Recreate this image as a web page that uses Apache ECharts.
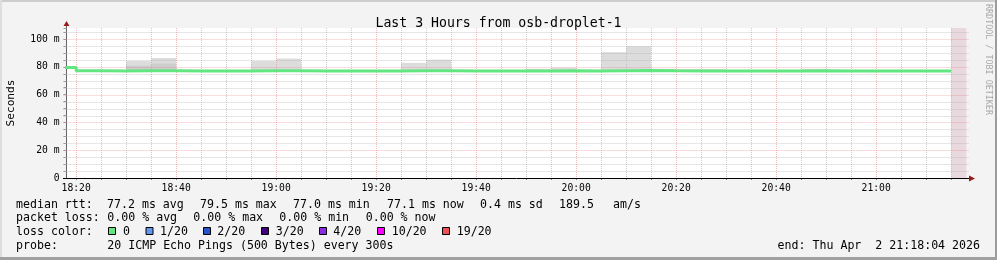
<!DOCTYPE html>
<html>
<head>
<meta charset="utf-8">
<script src="https://cdn.jsdelivr.net/npm/echarts@6/dist/echarts.min.js"></script>
<style>
html,body{margin:0;padding:0;background:#f3f3f3;}
#c{width:997px;height:260px;}
</style>
</head>
<body>
<div id="c"></div>
<script>
// ---------- data ----------
const binStarts = ['18:15','18:20','18:25','18:30','18:35','18:40','18:45','18:50','18:55',
  '19:00','19:05','19:10','19:15','19:20','19:25','19:30','19:35','19:40','19:45','19:50','19:55',
  '20:00','20:05','20:10','20:15','20:20','20:25','20:30','20:35','20:40','20:45','20:50','20:55',
  '21:00','21:05','21:10'];
const binEnd = '21:15';
const medianMs = [79.5,77.2,77.1,77.2,77.3,77.1,77.1,77.0,77.2,
  77.2,77.1,77.1,77.0,77.1,77.2,77.2,77.1,77.0,77.1,77.1,77.2,
  77.1,77.3,77.4,77.2,77.1,77.1,77.0,77.1,77.1,77.2,77.1,77.0,
  77.1,77.1,77.1];
const smokeMaxMs = [80.2,77.8,77.8,84.2,86.4,77.9,77.8,77.7,84.2,
  86.0,77.8,77.8,77.7,77.8,82.9,85.2,77.8,77.7,77.8,78.6,79.4,
  77.8,90.6,94.9,78.6,78.5,78.5,77.8,77.8,77.8,78.6,77.8,77.7,
  77.8,77.8,77.8];
const smokeMinMs = [79.0,76.6,76.6,76.6,76.6,76.6,76.6,76.6,76.6,
  76.6,76.6,76.6,76.6,76.6,76.6,76.6,76.6,76.6,76.6,76.6,76.6,
  76.6,76.6,76.6,76.6,76.6,76.6,76.6,76.6,76.6,76.6,76.6,76.6,
  76.6,76.6,76.6];
const smokeInnerMaxMs = [79.8,77.5,77.5,80.8,82.4,77.5,77.5,77.5,77.5,
  77.5,77.5,77.5,77.5,77.5,77.5,77.5,77.5,77.5,77.5,77.5,77.5,
  77.5,77.5,77.5,77.5,77.5,77.5,77.5,77.5,77.5,77.5,77.5,77.5,
  77.5,77.5,77.5];
const smokeInnerMinMs = [79.2,76.9,76.9,76.9,76.9,76.9,76.9,76.9,76.9,
  76.9,76.9,76.9,76.9,76.9,76.9,76.9,76.9,76.9,76.9,76.9,76.9,
  76.9,76.9,76.9,76.9,76.9,76.9,76.9,76.9,76.9,76.9,76.9,76.9,
  76.9,76.9,76.9];
const startTime = '18:18:04';
const endTime = '21:18:04';
const unknownFrom = '21:15';
const yMaxMs = 108;
const yTickStepMs = 5;
const yMajorStepMs = 20;
const yLabelValues = [0, 20, 40, 60, 80, 100];
const xLabelTimes = ['18:20','18:40','19:00','19:20','19:40','20:00','20:20','20:40','21:00'];
const xMinorStepMin = 5;
const xMajorStepMin = 20;

const titleText = 'Last 3 Hours from osb-droplet-1';
const yName = 'Seconds';
const rttHead = 'median rtt:';
const rttStats = ['77.2 ms avg','79.5 ms max','77.0 ms min','77.1 ms now','0.4 ms sd','189.5','am/s'];
const lossHead = 'packet loss:';
const lossStats = ['0.00 % avg','0.00 % max','0.00 % min','0.00 % now'];
const lossColorHead = 'loss color:';
const lossLabels = ['0','1/20','2/20','3/20','4/20','10/20','19/20'];
const lossColors = ['#62e67f','#6495ed','#2454c8','#40007f','#8a2be2','#ff00ff','#f05050'];
const probeHead = 'probe:';
const probeText = '20 ICMP Echo Pings (500 Bytes) every 300s';
const endText = 'end: Thu Apr  2 21:18:04 2026';
const watermark = 'RRDTOOL / TOBI OETIKER';

// ---------- layout ----------
const rttX = [107, 200, 293, 387, 480, 559, 613];
const lossX = [107.3, 193.3, 279.3, 365.7];
const swatchX = [108.5, 146, 203.5, 261.5, 319.5, 377.5, 442.5];
const swatchLabelX = [123, 160, 217.3, 275.7, 333.3, 391.7, 456.7];
const MONO = '"DejaVu Sans Mono", monospace';

function toMin(s) {
  const p = s.split(':').map(Number);
  return p[0] * 60 + p[1] + (p[2] || 0) / 60;
}
function fmtMin(v) {
  const h = Math.floor(v / 60), m = Math.round(v - h * 60);
  return h + ':' + (m < 10 ? '0' : '') + m;
}
const xMin = toMin(startTime), xMax = toMin(endTime);
const binStartMin = binStarts.map(toMin);
const binEndMin = binStartMin.slice(1).concat([toMin(binEnd)]);

const outerBoxes = binStartMin.map((t, i) => [t, binEndMin[i], smokeMinMs[i], smokeMaxMs[i]]);
const innerBoxes = binStartMin.map((t, i) => [t, binEndMin[i], smokeInnerMinMs[i], smokeInnerMaxMs[i]]);
const medianLine = binStartMin.map((t, i) => [t, medianMs[i]]);
medianLine.push([toMin(binEnd), medianMs[medianMs.length - 1]]);

// grid lines: [orientation (0 vertical / 1 horizontal), value, major]
const gridLines = [];
for (let t = Math.ceil(xMin / xMinorStepMin) * xMinorStepMin; t < xMax; t += xMinorStepMin) {
  gridLines.push([0, t, t % xMajorStepMin === 0 ? 1 : 0]);
}
for (let v = yTickStepMs; v < yMaxMs; v += yTickStepMs) {
  gridLines.push([1, v, v % yMajorStepMs === 0 ? 1 : 0]);
}
const xTickValues = gridLines.filter(g => g[0] === 0).map(g => g[1]);

function renderBox(params, api) {
  const p0 = api.coord([api.value(0), api.value(3)]);
  const p1 = api.coord([api.value(1), api.value(2)]);
  const cs = params.coordSys;
  const shape = echarts.graphic.clipRectByRect(
    { x: p0[0], y: p0[1], width: p1[0] - p0[0], height: p1[1] - p0[1] },
    { x: cs.x, y: cs.y, width: cs.width, height: cs.height });
  return shape && { type: 'rect', shape: shape, style: { fill: api.visual('color') } };
}

const chart = echarts.init(document.getElementById('c'), null, { renderer: 'canvas' });

const graphics = [];
// frame
graphics.push({ type: 'rect', shape: { x: 0, y: 0, width: 997, height: 2 }, style: { fill: '#cdcdcd' }, silent: true });
graphics.push({ type: 'rect', shape: { x: 0, y: 0, width: 2, height: 260 }, style: { fill: '#dedede' }, silent: true });
graphics.push({ type: 'rect', shape: { x: 995, y: 0, width: 2, height: 260 }, style: { fill: '#9c9c9c' }, silent: true });
graphics.push({ type: 'rect', shape: { x: 0, y: 257, width: 997, height: 3 }, style: { fill: '#a0a0a0' }, silent: true });
// axis extensions and arrows
graphics.push({ type: 'line', shape: { x1: 66.5, y1: 24, x2: 66.5, y2: 28 }, style: { stroke: '#666', lineWidth: 1 }, silent: true });
graphics.push({ type: 'polygon', shape: { points: [[66.5, 21], [63.5, 26], [69.5, 26]] }, style: { fill: '#9a1a1a' }, silent: true });
graphics.push({ type: 'line', shape: { x1: 63, y1: 178.5, x2: 970, y2: 178.5 }, style: { stroke: '#000', lineWidth: 1 }, silent: true, z: 10 });
graphics.push({ type: 'polygon', shape: { points: [[975, 178.5], [969, 175.5], [969, 181.5]] }, style: { fill: '#9a1a1a' }, silent: true, z: 10 });
// watermark
graphics.push({ type: 'text', x: 988, y: 4, rotation: -Math.PI / 2, silent: true,
  style: { text: watermark, font: '8.4px ' + MONO, fill: '#a8a8a8', align: 'left', verticalAlign: 'middle' } });

function addText(t, x, y, align) {
  graphics.push({ type: 'text', x: x, y: y, silent: true,
    style: { text: t, font: '11.6px ' + MONO, fill: '#000', align: align || 'left', verticalAlign: 'middle' } });
}
const rowY = [204.5, 218, 231.5, 245.5];
addText(rttHead, 16, rowY[0]);
rttStats.forEach((s, i) => addText(s, rttX[i], rowY[0]));
addText(lossHead, 16, rowY[1]);
lossStats.forEach((s, i) => addText(s, lossX[i], rowY[1]));
addText(lossColorHead, 16, rowY[2]);
lossLabels.forEach((s, i) => {
  graphics.push({ type: 'rect', shape: { x: swatchX[i], y: 227.5, width: 7, height: 7 }, silent: true,
    style: { fill: lossColors[i], stroke: '#000', lineWidth: 1 } });
  addText(s, swatchLabelX[i], rowY[2]);
});
addText(probeHead, 16, rowY[3]);
addText(probeText, 107.3, rowY[3]);
addText(endText, 980, rowY[3], 'right');

chart.setOption({
  backgroundColor: '#f3f3f3',
  animation: false,
  title: {
    text: titleText, left: 'center', top: 12,
    textStyle: { fontFamily: MONO, fontSize: 13.2, fontWeight: 'normal', color: '#000' }
  },
  grid: { left: 66.5, top: 28, width: 900, height: 150, show: true, backgroundColor: '#ffffff', borderWidth: 0,
    containLabel: false, outerBoundsMode: 'none' },
  xAxis: {
    type: 'value', min: xMin, max: xMax,
    axisLine: { show: false },
    axisTick: { show: true, length: 2, customValues: xTickValues, lineStyle: { color: '#888' } },
    axisLabel: {
      customValues: xLabelTimes.map(toMin), margin: 5,
      formatter: v => fmtMin(v),
      fontFamily: MONO, fontSize: 9.7, color: '#000'
    },
    splitLine: { show: false }
  },
  yAxis: {
    type: 'value', min: 0, max: yMaxMs, interval: yTickStepMs,
    name: yName, nameLocation: 'middle', nameGap: 49.5, nameRotate: 90,
    nameTextStyle: { fontFamily: MONO, fontSize: 11.2, color: '#000' },
    axisLine: { show: true, lineStyle: { color: '#666', width: 1 } },
    axisTick: { show: true, length: 3, lineStyle: { color: '#999' } },
    axisLabel: {
      margin: 7, fontFamily: MONO, fontSize: 9.7, color: '#000',
      formatter: v => yLabelValues.indexOf(v) >= 0 ? (v === 0 ? '0' : v + ' m') : ''
    },
    splitLine: { show: false }
  },
  series: [
    {
      type: 'custom', name: 'unknown', z: 1, silent: true,
      renderItem: renderBox, itemStyle: { color: '#e9d9de' },
      encode: { x: [0, 1], y: [2, 3] },
      data: [[toMin(unknownFrom), xMax, 0, yMaxMs]]
    },
    {
      type: 'custom', name: 'smoke', z: 1, silent: true,
      renderItem: renderBox, itemStyle: { color: '#dcdcdc' },
      encode: { x: [0, 1], y: [2, 3] },
      data: outerBoxes
    },
    {
      type: 'custom', name: 'smoke inner', z: 1, silent: true,
      renderItem: renderBox, itemStyle: { color: '#cdcdcd' },
      encode: { x: [0, 1], y: [2, 3] },
      data: innerBoxes
    },
    {
      type: 'custom', name: 'grid', z: 3, silent: true,
      encode: { x: 1 },
      renderItem: function (params, api) {
        const cs = params.coordSys;
        const o = api.value(0), v = api.value(1), major = api.value(2);
        const stroke = major ? 'rgba(225,120,120,0.5)' : 'rgba(170,170,170,0.6)';
        let shape;
        if (o === 0) {
          const x = Math.round(api.coord([v, 0])[0]) + 0.5;
          shape = { x1: x, y1: cs.y, x2: x, y2: cs.y + cs.height + 2 };
        } else {
          const y = Math.round(api.coord([xMin, v])[1]) + 0.5;
          shape = { x1: cs.x - 3, y1: y, x2: cs.x + cs.width + 2, y2: y };
        }
        return { type: 'line', shape: shape, style: { stroke: stroke, lineWidth: 1, lineDash: [1, 1] } };
      },
      data: gridLines
    },
    {
      type: 'line', name: 'median rtt', z: 5, step: 'end', symbol: 'none', silent: true,
      lineStyle: { color: lossColors[0], width: 3 },
      data: medianLine
    }
  ],
  graphic: graphics
});
</script>
</body>
</html>
